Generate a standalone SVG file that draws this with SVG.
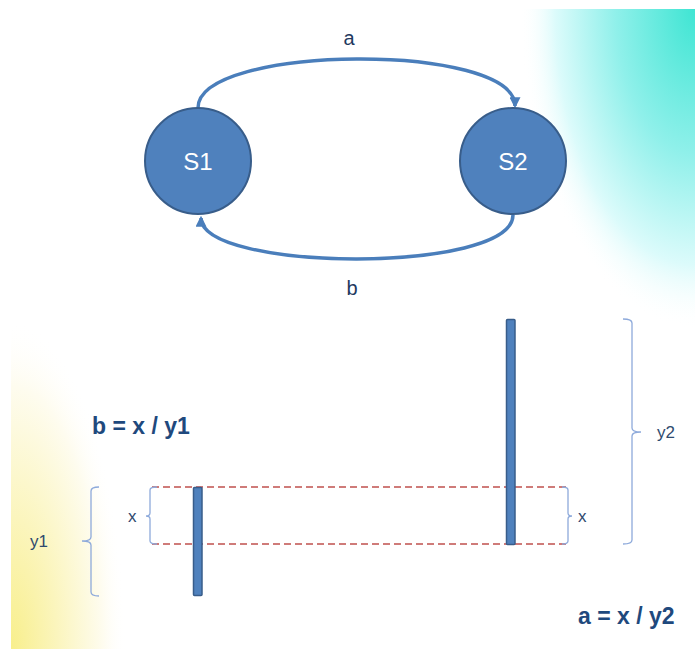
<svg xmlns="http://www.w3.org/2000/svg" width="695" height="649" viewBox="0 0 695 649">
<defs>
<radialGradient id="teal" cx="1" cy="0" r="1" fx="1" fy="0">
<stop offset="0" stop-color="#3fe5d3"/>
<stop offset="0.45" stop-color="#8ff0ea"/>
<stop offset="0.8" stop-color="#dcfbfb"/>
<stop offset="1" stop-color="#ffffff" stop-opacity="0"/>
</radialGradient>
<radialGradient id="yellow" cx="0" cy="1" fx="0" fy="1" r="1">
<stop offset="0" stop-color="#f8ef8c"/>
<stop offset="0.4" stop-color="#fbf5bd"/>
<stop offset="0.8" stop-color="#fefcef"/>
<stop offset="1" stop-color="#ffffff" stop-opacity="0"/>
</radialGradient>
<marker id="arr" markerUnits="userSpaceOnUse" markerWidth="11" markerHeight="11" refX="8" refY="5" orient="auto" viewBox="0 0 10 10">
<path d="M0,0 L10,5 L0,10 z" fill="#4a7ebb"/>
</marker>
<style>
.node circle{fill:#4f81bd;stroke:#385d8a;stroke-width:2}
.node text{fill:#ffffff;font-family:"Liberation Sans",Arial,sans-serif;font-size:24px;text-anchor:middle}
.conn{fill:none;stroke:#4a7ebb;stroke-width:3.5;marker-end:url(#arr)}
.lbl{fill:#1f3a5f;font-family:"Liberation Sans",Arial,sans-serif;font-size:20px;text-anchor:middle}
.small{fill:#2f4a6e;font-family:"Liberation Sans",Arial,sans-serif;font-size:17px}
.formula{fill:#1f497d;font-family:"Liberation Sans",Arial,sans-serif;font-size:23px;font-weight:bold}
.bar{fill:#4f81bd;stroke:#385d8a;stroke-width:1.5}
.dash{stroke:#c0504d;stroke-width:1.4;stroke-dasharray:7,4;fill:none}
.brace{fill:none;stroke:#8eaadb;stroke-width:1.3}
</style>
</defs>
<rect width="695" height="649" fill="#ffffff"/>
<rect x="520" y="9" width="175" height="320" fill="url(#teal)"/>
<rect x="11" y="320" width="115" height="329" fill="url(#yellow)"/>

<g id="connectors">
<path class="conn" d="M198,108 C198,44 515,42 515,106"/>
<path class="conn" d="M513,215 C513,274 201,272 201,218"/>
<text class="lbl" x="349" y="45">a</text>
<text class="lbl" x="352" y="295">b</text>
</g>

<g id="S1" class="node">
<circle cx="198" cy="161" r="53"/>
<text x="198" y="170">S1</text>
</g>
<g id="S2" class="node">
<circle cx="513" cy="161" r="53"/>
<text x="513" y="170">S2</text>
</g>

<g id="guides">
<line class="dash" x1="152" y1="487" x2="568" y2="487"/>
<line class="dash" x1="152" y1="544" x2="568" y2="544"/>
</g>

<g id="bar1"><rect class="bar" x="193.5" y="487.5" width="8.5" height="108" rx="1"/></g>
<g id="bar2"><rect class="bar" x="506.5" y="319.5" width="8.5" height="225" rx="1"/></g>

<g id="brace-y1">
<path class="brace" d="M99,487 Q91,487 91,491 L91,537 Q91,541 82,541 Q91,541 91,545 L91,592 Q91,596 99,596"/>
<text class="small" x="30" y="547">y1</text>
</g>
<g id="brace-x-left">
<path class="brace" d="M157,487 Q150,487 150,490 L150,513 Q150,516 146,516 Q150,516 150,519 L150,541 Q150,544 157,544"/>
<text class="small" x="128" y="522">x</text>
</g>
<g id="brace-x-right">
<path class="brace" d="M562,487 Q568,487 568,490 L568,513 Q568,516 572,516 Q568,516 568,519 L568,541 Q568,544 562,544"/>
<text class="small" x="578" y="522">x</text>
</g>
<g id="brace-y2">
<path class="brace" d="M623,319 Q632,319 632,323 L632,428 Q632,432 641,432 Q632,432 632,436 L632,540 Q632,544 623,544"/>
<text class="small" x="657" y="438">y2</text>
</g>

<g id="formula-b"><text class="formula" x="92" y="434">b = x / y1</text></g>
<g id="formula-a"><text class="formula" x="578" y="624">a = x / y2</text></g>
</svg>
